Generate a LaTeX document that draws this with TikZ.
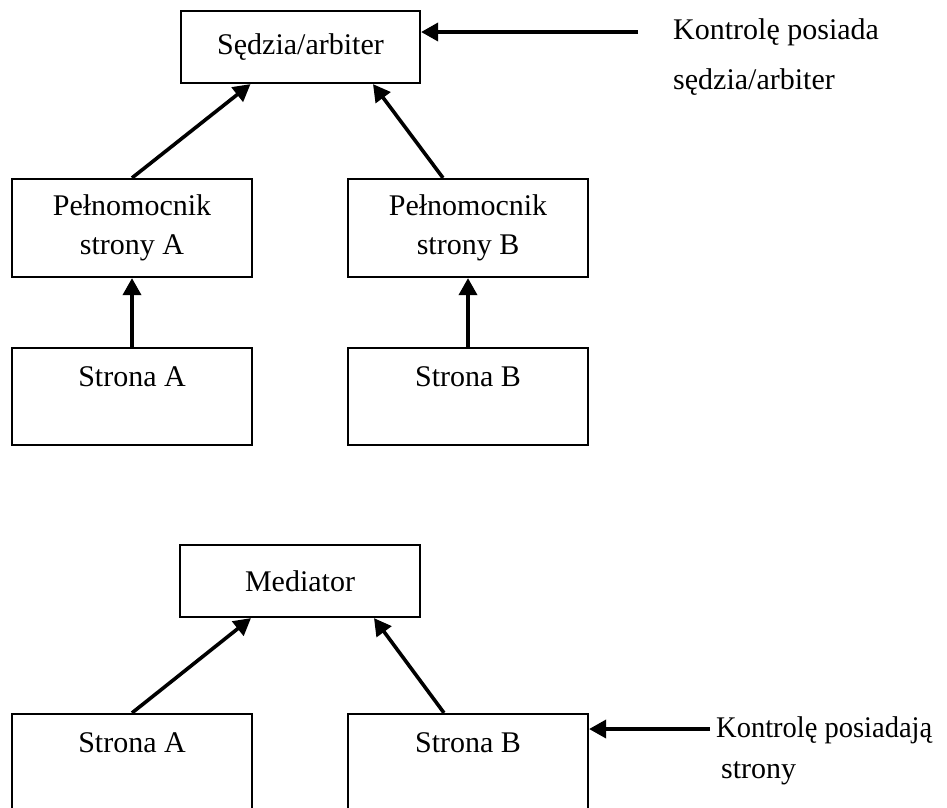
\documentclass[tikz,border=0pt]{standalone}
\usepackage{fontspec}
\setmainfont{Liberation Serif}
\usetikzlibrary{arrows.meta}
\begin{document}
\begin{tikzpicture}[x=1pt,y=-1pt,
  box/.style={draw,line width=2.2pt,inner sep=0pt,minimum width=240pt,align=center,font=\fontsize{30}{39}\selectfont},
  arr/.style={line width=3.6pt,-{Triangle[length=17pt,width=18pt]}},
  lbl/.style={font=\fontsize{30}{39}\selectfont,anchor=base west,inner sep=0pt}]
\fill[white] (0,0) rectangle (947,807);
\useasboundingbox (0,0) rectangle (947,807);
% top diagram
\node[box,minimum width=239pt,minimum height=72pt] (sedzia) at (300.5,47) {Sędzia/arbiter};
\node[box,minimum height=98pt] (pA) at (132,228) {Pełnomocnik\\strony A};
\node[box,minimum height=98pt] (pB) at (468,228) {Pełnomocnik\\strony B};
\node[box,minimum height=97pt] (sA) at (132,396.5) {Strona A\\~};
\node[box,minimum height=97pt] (sB) at (468,396.5) {Strona B\\~};
\draw[arr] (pA.north) -- ([xshift=-50pt]sedzia.south);
\draw[arr] ([xshift=-25pt]pB.north) -- ([xshift=72.5pt]sedzia.south);
\draw[arr] (sA.north) -- (pA.south);
\draw[arr] (sB.north) -- (pB.south);
\coordinate (c1) at (638,32);
\draw[arr] (c1) -- ([yshift=15pt]sedzia.east);
\node[lbl] (t1) at (673,39) {Kontrolę posiada};
\node[lbl] (t2) at (673,89) {sędzia/arbiter};
% bottom diagram
\node[box,minimum height=72pt] (med) at (300,581) {Mediator};
\node[box,minimum height=97pt] (sA2) at (132,762.5) {Strona A\\~};
\node[box,minimum height=97pt] (sB2) at (468,762.5) {Strona B\\~};
\draw[arr] (sA2.north) -- ([xshift=-49pt]med.south);
\draw[arr] ([xshift=-24pt]sB2.north) -- ([xshift=74pt]med.south);
\coordinate (c2) at (710,729);
\draw[arr] (c2) -- ([yshift=33.5pt]sB2.east);
\node[lbl,font=\fontsize{30}{39}\selectfont\addfontfeatures{FakeStretch=0.95}] (t3) at (716,737) {Kontrolę posiadają};
\node[lbl] (t4) at (721,778) {strony};
\end{tikzpicture}
\end{document}
